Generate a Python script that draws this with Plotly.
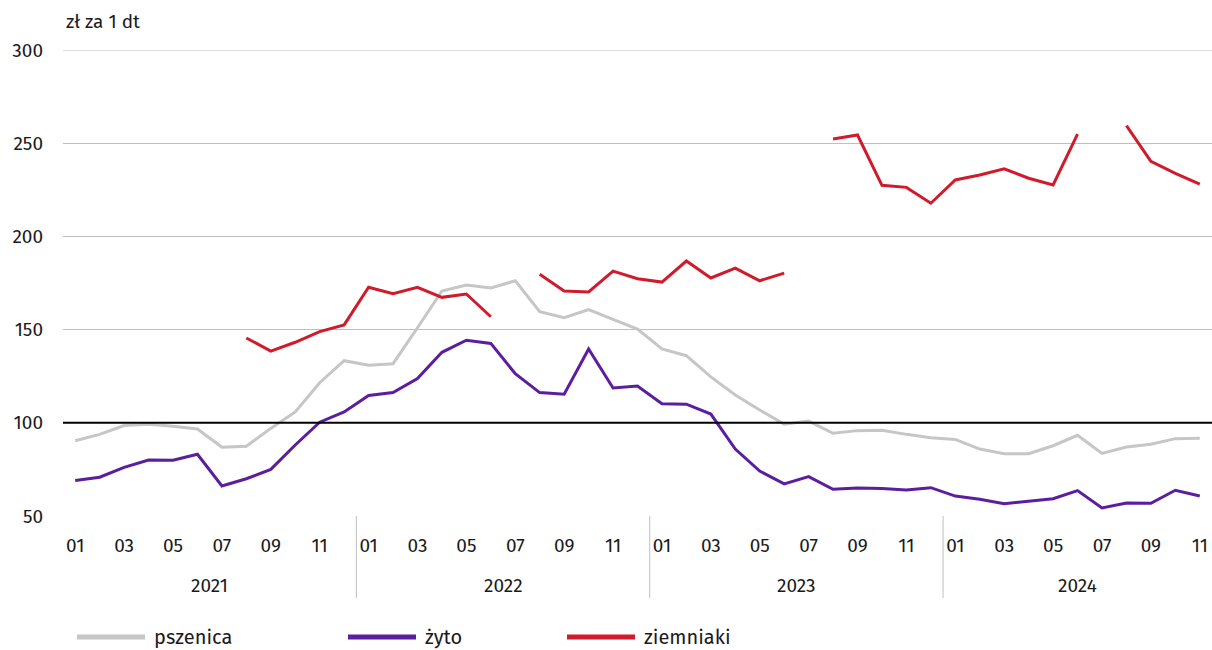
import plotly.graph_objects as go

years = [2021, 2022, 2023, 2024]
months = [f"{y}-{m:02d}" for y in years for m in range(1, 13)][:47]

pszenica = [90.4, 93.8, 98.5, 99.2, 98.1, 96.7, 86.9, 87.4, 97.0, 105.8, 121.5, 133.3,
            130.9, 131.7, 151.0, 170.7, 173.9, 172.3, 176.2, 159.6, 156.4, 160.7, 155.5, 150.3,
            139.6, 136.0, 124.6, 114.9, 106.9, 99.2, 100.9, 94.4, 95.8, 96.0, 93.8, 92.0,
            91.1, 85.9, 83.4, 83.4, 87.7, 93.3, 83.6, 87.0, 88.5, 91.5, 91.7]
zyto = [69.0, 70.8, 76.1, 80.0, 79.9, 83.1, 66.1, 70.0, 75.0, 88.1, 100.3, 105.8,
        114.7, 116.2, 123.7, 137.8, 144.3, 142.6, 126.3, 116.2, 115.3, 139.6, 118.7, 119.7,
        110.2, 110.0, 104.7, 85.9, 74.1, 67.2, 71.1, 64.3, 65.0, 64.8, 63.9, 65.2,
        60.7, 59.0, 56.6, 57.9, 59.3, 63.6, 54.3, 57.0, 56.8, 63.8, 60.7]
ziemniaki = [None, None, None, None, None, None, None, 145.5, 138.5, 143.2, 148.9, 152.5,
             172.7, 169.3, 172.7, 167.3, 169.1, 156.9, None, 179.7, 170.7, 170.2, 181.4, 177.3,
             175.5, 186.8, 177.7, 183.0, 176.2, 180.3, None, 252.3, 254.4, 227.4, 226.3, 217.8,
             230.3, 232.9, 236.2, 231.2, 227.6, 254.9, None, 259.4, 240.3, 233.8, 228.1]

series_names = ["pszenica", "żyto", "ziemniaki"]
colors = ["#c6c6c6", "#5a1e9f", "#cf1b2b"]
tick_months = [m for m in months if int(m[-2:]) % 2 == 1]
tick_text = [m[-2:] for m in tick_months]
y_ticks = [50, 100, 150, 200, 250, 300]

FONT = "Fira Sans, Noto Sans, sans-serif"
TXT = "#1a1a1a"

# page geometry (body margin removed below)
W, H = 1212, 650
PL, PT, PB, PR = 63, 50, 516, 1212
PW, PH = PR - PL, PB - PT


def px(x):
    return (x - PL) / PW


def py(y):
    return (PB - y) / PH


fig = go.Figure()
for name, vals, col in zip(series_names, [pszenica, zyto, ziemniaki], colors):
    fig.add_trace(go.Scatter(x=months, y=vals, mode="lines", name=name,
                             line=dict(color=col, width=3), connectgaps=False,
                             showlegend=False))

# top gridline (plotly hides the one on the range edge)
fig.add_shape(type="line", xref="paper", yref="y", x0=0, x1=1, y0=300, y1=300,
              line=dict(color="#bfbfbf", width=1), layer="below")
# reference line at 100
fig.add_shape(type="line", xref="paper", yref="y", x0=0, x1=1, y0=100, y1=100,
              line=dict(color="black", width=2), layer="above")

# year separators and labels
for i, y in enumerate(years):
    first = months.index(f"{y}-01")
    if i > 0:
        fig.add_shape(type="line", xref="x", yref="paper", x0=first - 0.5, x1=first - 0.5,
                      y0=0, y1=py(598), line=dict(color="#bfbfbf", width=1))
    if i == len(years) - 1:
        mid = (first - 0.5 + len(months) - 0.5) / 2
    else:
        mid = first + 5.5
    fig.add_annotation(x=mid, y=py(585), xref="x", yref="paper", text=str(y),
                       showarrow=False, font=dict(size=19, color=TXT), yanchor="middle")

# manual legend
leg_x = [77, 348, 567]
for name, col, lx in zip(series_names, colors, leg_x):
    fig.add_shape(type="line", xref="paper", yref="paper",
                  x0=px(lx), x1=px(lx + 68), y0=py(637), y1=py(637),
                  line=dict(color=col, width=5))
    fig.add_annotation(x=px(lx + 75), y=py(637), xref="paper", yref="paper",
                       text=name, showarrow=False, xanchor="left", yanchor="middle",
                       font=dict(size=20, color=TXT))

fig.add_annotation(x=px(64), y=py(22), xref="paper", yref="paper", text="zł za 1 dt",
                   showarrow=False, xanchor="left", yanchor="middle",
                   font=dict(size=19, color=TXT))

fig.update_layout(
    width=W, height=H,
    margin=dict(l=PL, r=W - PR, t=PT, b=H - PB),
    plot_bgcolor="white", paper_bgcolor="white",
    font=dict(family=FONT, size=19, color=TXT),
    hovermode=False,
    xaxis=dict(type="category", range=[-0.5, len(months) - 0.5],
               tickmode="array", tickvals=tick_months, ticktext=tick_text,
               showgrid=False, zeroline=False, showline=False, ticks="",
               ticklabelstandoff=16, tickfont=dict(size=19)),
    yaxis=dict(range=[50, 300], tickvals=y_ticks, showgrid=True,
               gridcolor="#bfbfbf", gridwidth=1, zeroline=False, showline=False,
               ticks="", ticklabelstandoff=19, tickfont=dict(size=19)),
)

fig.write_html("out.html",
               config={"displayModeBar": False, "staticPlot": True},
               post_script="document.body.style.margin='0';"
                           "document.body.style.overflow='hidden';")
